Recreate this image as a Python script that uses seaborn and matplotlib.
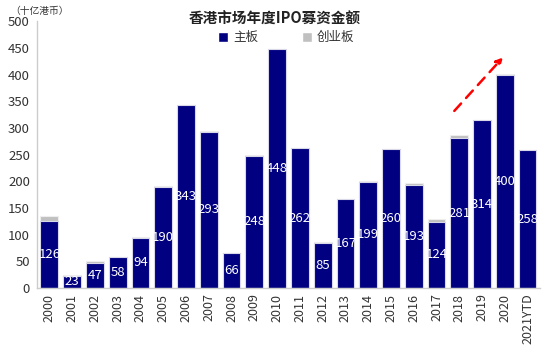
import matplotlib
matplotlib.use("Agg")
import matplotlib.pyplot as plt
import seaborn as sns
import pandas as pd
from matplotlib.patches import Patch

years = ["2000", "2001", "2002", "2003", "2004", "2005", "2006", "2007", "2008", "2009",
         "2010", "2011", "2012", "2013", "2014", "2015", "2016", "2017", "2018", "2019",
         "2020", "2021YTD"]
main_board = [126, 23, 47, 58, 94, 190, 343, 293, 66, 248,
              448, 262, 85, 167, 199, 260, 193, 124, 281, 314, 400, 258]
gem_board = [9, 2, 4, 0.5, 1.5, 1, 0.5, 1, 0.3, 0.5,
             0.5, 0.5, 0.5, 0.5, 1, 1, 3, 5, 6, 1, 0.5, 0]
yticks = [0, 50, 100, 150, 200, 250, 300, 350, 400, 450, 500]

sns.set_theme(style="white")
plt.rcParams['font.family'] = ['Noto Sans CJK SC', 'DejaVu Sans']

df = pd.DataFrame({"year": years, "main": main_board,
                   "total": [m + g for m, g in zip(main_board, gem_board)]})

fig = plt.figure(figsize=(5.5, 3.53), dpi=100)
ax = fig.add_axes([0.067, 0.184, 0.915, 0.756])

navy = "#000080"
gray = "#c0c0c0"
sns.barplot(data=df, x="year", y="total", color=gray, width=0.78,
            edgecolor="#eeeeee", linewidth=0.8, saturation=1, ax=ax)
sns.barplot(data=df, x="year", y="main", color=navy, width=0.78,
            edgecolor="#d8d8e8", linewidth=0.8, saturation=1, ax=ax)

for i, v in enumerate(main_board):
    ax.text(i, v / 2, f"{v}", ha="center", va="center", color="white", fontsize=9.5)

ax.set_ylim(0, 500)
ax.set_xlim(-0.55, len(years) - 0.45)
ax.set_yticks(yticks)
ax.set_yticklabels([str(t) for t in yticks], fontsize=9.5, color="#333333")
ax.set_xticks(range(len(years)))
ax.set_xticklabels(years, rotation=90, fontsize=9, color="#333333")
ax.tick_params(axis="x", length=0, pad=4)
ax.tick_params(axis="y", length=3, color="#bbbbbb", pad=2)
ax.set_xticks([i - 0.5 for i in range(len(years) + 1)], minor=True)
ax.tick_params(axis="x", which="minor", length=4, color="#bbbbbb", direction="out")
ax.set_xlabel("")
ax.set_ylabel("")
for s in ["top", "right"]:
    ax.spines[s].set_visible(False)
ax.spines["left"].set_color("#cccccc")
ax.spines["bottom"].set_color("#cccccc")
ax.spines["left"].set_linewidth(1.0)
ax.spines["bottom"].set_linewidth(1.0)

fig.text(0.5, 0.948, "香港市场年度IPO募资金额", ha="center", va="center",
         fontsize=10.5, fontweight="bold", color="#222222")
fig.text(0.018, 0.968, "（十亿港币）", ha="left", va="center", fontsize=7, color="#333333")

handles = [Patch(facecolor=navy, label="主板"), Patch(facecolor=gray, label="创业板")]
fig.legend(handles=handles, loc="center", bbox_to_anchor=(0.52, 0.893), ncol=2,
           frameon=False, fontsize=9, handlelength=0.8, handleheight=0.8,
           handletextpad=0.4, columnspacing=3.5, labelcolor="#333333")

ax.annotate("", xy=(20.0, 436), xytext=(17.7, 328),
            arrowprops=dict(arrowstyle="-|>", color="#ff0000", lw=1.8,
                            linestyle=(0, (4, 3)), mutation_scale=10))

fig.savefig("out.png", dpi=100)
